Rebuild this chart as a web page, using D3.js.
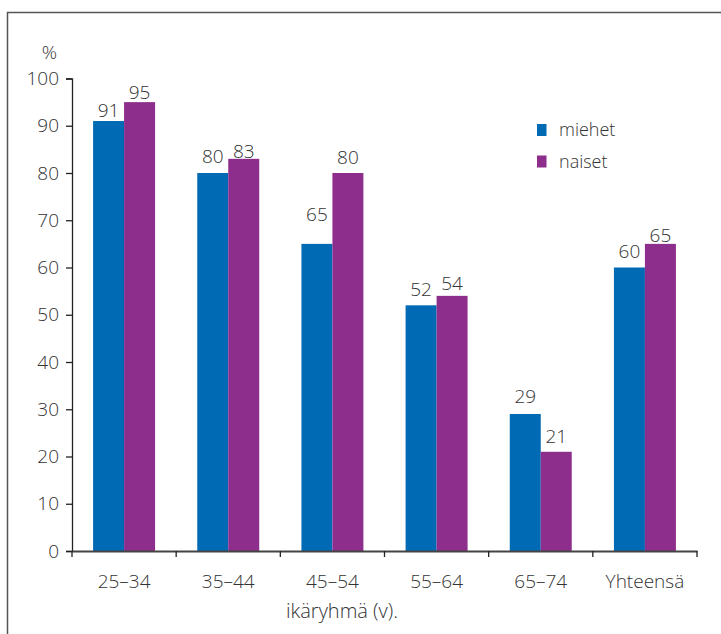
<!DOCTYPE html>
<html>
<head>
<meta charset="utf-8">
<script src="https://cdn.jsdelivr.net/npm/d3@7"></script>
<style>
  html, body { margin: 0; padding: 0; background: #fff; }
  svg text { font-family: "Open Sans", "Lato", sans-serif; font-weight: 300; fill: #333; }
</style>
</head>
<body>
<svg id="chart" width="721" height="634"></svg>
<script>
// data
var categories = ['25–34', '35–44', '45–54', '55–64', '65–74', 'Yhteensä'];
var seriesNames = ['miehet', 'naiset'];
var miehet = [91, 80, 65, 52, 29, 60];
var naiset = [95, 83, 80, 54, 21, 65];
var yTicks = [0, 10, 20, 30, 40, 50, 60, 70, 80, 90, 100];

(function () {
  var colors = ['#006ab4', '#8e2e8c'];
  // gap (px) between bar top and value label baseline, as placed in the original
  var labelLift = [[4, 10, 23, 9, 11, 10], [3, 1, 9, 6, 9, 2]];

  var svg = d3.select('#chart');
  var plotLeft = 72, plotRight = 697, plotTop = 78.5, plotBottom = 551;

  // frame
  svg.append('path')
    .attr('d', 'M7.5,640V12.5H730')
    .attr('fill', 'none')
    .attr('stroke', '#555')
    .attr('stroke-width', 1.5);

  var pad = 0.405;
  var x = d3.scaleBand()
    .domain(categories)
    .range([plotLeft, plotRight])
    .paddingInner(pad)
    .paddingOuter(pad / 2);
  var xs = d3.scaleBand()
    .domain(seriesNames)
    .range([0, x.bandwidth()]);
  var y = d3.scaleLinear()
    .domain([0, 100])
    .range([plotBottom, plotTop]);

  var rows = categories.map(function (c, i) {
    return { cat: c, vals: [miehet[i], naiset[i]], idx: i };
  });
  function cells(d) {
    return d.vals.map(function (v, s) { return { v: v, s: s, idx: d.idx }; });
  }

  var group = svg.selectAll('g.group')
    .data(rows)
    .enter()
    .append('g')
    .attr('class', 'group')
    .attr('transform', function (d) { return 'translate(' + x(d.cat) + ',0)'; });

  // bars
  group.selectAll('rect')
    .data(cells)
    .enter()
    .append('rect')
    .attr('x', function (d) { return xs(seriesNames[d.s]); })
    .attr('width', xs.bandwidth())
    .attr('y', function (d) { return y(d.v); })
    .attr('height', function (d) { return y(0) - y(d.v); })
    .attr('fill', function (d) { return colors[d.s]; });

  // value labels
  group.selectAll('text.val')
    .data(cells)
    .enter()
    .append('text')
    .attr('class', 'val')
    .attr('x', function (d) { return xs(seriesNames[d.s]) + xs.bandwidth() / 2; })
    .attr('y', function (d) { return y(d.v) - labelLift[d.s][d.idx]; })
    .attr('text-anchor', 'middle')
    .attr('font-size', 19)
    .text(function (d) { return d.v; });

  // y axis
  var yAxis = d3.axisLeft(y)
    .tickValues(yTicks)
    .tickSize(6)
    .tickPadding(7);
  var gy = svg.append('g')
    .attr('transform', 'translate(' + plotLeft + ',0)')
    .call(yAxis);
  gy.select('.domain').attr('stroke', '#222').attr('stroke-width', 1.3);
  gy.selectAll('.tick line').attr('stroke', '#222').attr('stroke-width', 1.3);
  gy.selectAll('.tick text')
    .attr('font-size', 19)
    .attr('font-family', null)
    .attr('fill', null);

  svg.append('text')
    .attr('x', 49.5)
    .attr('y', 58.5)
    .attr('text-anchor', 'middle')
    .attr('font-size', 19)
    .text('%');

  // x axis
  var xAxis = d3.axisBottom(x)
    .tickSize(0)
    .tickSizeOuter(0)
    .tickPadding(24);
  var gx = svg.append('g')
    .attr('transform', 'translate(0,' + plotBottom + ')')
    .call(xAxis);
  gx.select('.domain').attr('stroke', '#444').attr('stroke-width', 2);
  gx.selectAll('.tick text')
    .attr('font-size', 19)
    .attr('font-family', null)
    .attr('fill', null);

  // boundary ticks between categories
  var bounds = categories.map(function (c) { return x(c) - x.step() * pad / 2; });
  bounds.push(plotRight);
  gx.selectAll('line.bound')
    .data(bounds)
    .enter()
    .append('line')
    .attr('class', 'bound')
    .attr('x1', function (d) { return d; })
    .attr('x2', function (d) { return d; })
    .attr('y1', 0)
    .attr('y2', 6)
    .attr('stroke', '#222')
    .attr('stroke-width', 1.3);

  svg.append('text')
    .attr('x', 342)
    .attr('y', 618)
    .attr('text-anchor', 'middle')
    .attr('font-size', 20)
    .text('ikäryhmä (v).');

  // legend
  var legend = svg.selectAll('g.legend')
    .data(seriesNames)
    .enter()
    .append('g')
    .attr('class', 'legend')
    .attr('transform', function (d, i) { return 'translate(537,' + (124 + i * 31.5) + ')'; });
  legend.append('rect')
    .attr('width', 9.5)
    .attr('height', 12)
    .attr('fill', function (d, i) { return colors[i]; });
  legend.append('text')
    .attr('x', 22)
    .attr('y', 12)
    .attr('font-size', 18)
    .text(function (d) { return d; });
})();
</script>
</body>
</html>
